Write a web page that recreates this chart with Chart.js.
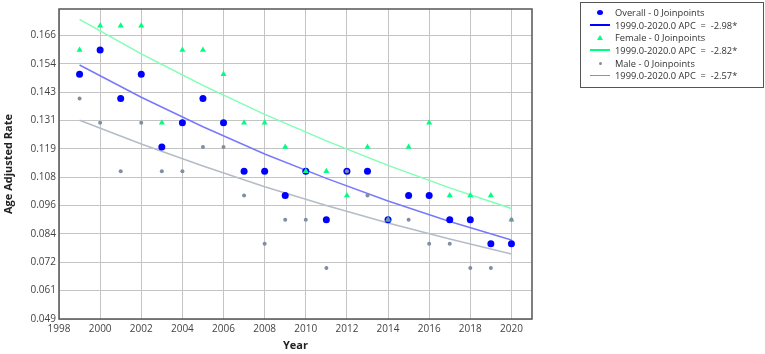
<!DOCTYPE html>
<html>
<head>
<meta charset="utf-8">
<script src="https://cdn.jsdelivr.net/npm/chart.js@4"></script>
<style>
    html, body { margin: 0; padding: 0; background: #fff; }
    #wrap { position: relative; width: 765px; height: 354px; }
    #legend {
        position: absolute; left: 580px; top: 2px; width: 184px; height: 86px;
        box-sizing: border-box; border: 1px solid #555; padding-top: 3px;
        font: 9.3px 'Open Sans', sans-serif; color: #333;
    }
    .row { height: 12.7px; display: flex; align-items: center; white-space: pre; }
    .sym { width: 20px; margin-left: 9px; margin-right: 5px; height: 12px; position: relative; }
    .sym span { position: absolute; }
</style>
</head>
<body>
<div id="wrap">
    <canvas id="chart" width="765" height="354"></canvas>
    <div id="legend"></div>
</div>
<script>
// Datos observados
const years = [1999, 2000, 2001, 2002, 2003, 2004, 2005, 2006, 2007, 2008, 2009,
               2010, 2011, 2012, 2013, 2014, 2015, 2016, 2017, 2018, 2019, 2020];
const overall = [0.15, 0.16, 0.14, 0.15, 0.12, 0.13, 0.14, 0.13, 0.11, 0.11, 0.10,
                 0.11, 0.09, 0.11, 0.11, 0.09, 0.10, 0.10, 0.09, 0.09, 0.08, 0.08];
const female = [0.16, 0.17, 0.17, 0.17, 0.13, 0.16, 0.16, 0.15, 0.13, 0.13, 0.12,
                0.11, 0.11, 0.10, 0.12, 0.09, 0.12, 0.13, 0.10, 0.10, 0.10, 0.09];
const male = [0.14, 0.13, 0.11, 0.13, 0.11, 0.11, 0.12, 0.12, 0.10, 0.08, 0.09,
              0.09, 0.07, 0.11, 0.10, 0.09, 0.09, 0.08, 0.08, 0.07, 0.07, 0.09];

// Lineas de tendencia (modelo joinpoint)
const trendYears = [1999, 2002, 2005, 2008, 2011, 2014, 2017, 2020];
const overallFit = [0.1538, 0.1405, 0.1283, 0.1171, 0.1070, 0.0977, 0.0892, 0.0816];
const femaleFit = [0.1726, 0.1584, 0.1454, 0.1334, 0.1225, 0.1124, 0.1031, 0.0946];
const maleFit = [0.1310, 0.1212, 0.1121, 0.1036, 0.0958, 0.0886, 0.0820, 0.0758];

const legendLabels = [
    'Overall - 0 Joinpoints', '1999.0-2020.0 APC  =  -2.98*',
    'Female - 0 Joinpoints', '1999.0-2020.0 APC  =  -2.82*',
    'Male - 0 Joinpoints', '1999.0-2020.0 APC  =  -2.57*'
];

const yMin = 0.049, yStep = 0.0117, yTickCount = 11;

const pts = (xs, ys) => xs.map((x, i) => ({ x: x, y: ys[i] }));

const frame = {
    id: 'frame',
    afterDraw(chart) {
        const a = chart.chartArea, ctx = chart.ctx;
        ctx.save();
        ctx.strokeStyle = '#555';
        ctx.lineWidth = 1.5;
        ctx.strokeRect(a.left, a.top, a.right - a.left, a.bottom - a.top);
        ctx.restore();
    }
};

new Chart(document.getElementById('chart').getContext('2d'), {
    type: 'scatter',
    data: {
        datasets: [
            { label: legendLabels[0], data: pts(years, overall), pointStyle: 'circle', pointRadius: 3.5,
              backgroundColor: '#0000ff', borderWidth: 0, order: 3 },
            { label: legendLabels[2], data: pts(years, female), pointStyle: 'triangle', pointRadius: 3.5,
              backgroundColor: '#00ff80', borderWidth: 0, order: 2 },
            { label: legendLabels[4], data: pts(years, male), pointStyle: 'circle', pointRadius: 2,
              backgroundColor: '#7f8fa0', borderWidth: 0, order: 1 },
            { label: legendLabels[1], data: pts(trendYears, overallFit), showLine: true, pointRadius: 0,
              borderColor: '#7878ff', borderWidth: 1.5, order: 6 },
            { label: legendLabels[3], data: pts(trendYears, femaleFit), showLine: true, pointRadius: 0,
              borderColor: '#80ffb4', borderWidth: 1.5, order: 5 },
            { label: legendLabels[5], data: pts(trendYears, maleFit), showLine: true, pointRadius: 0,
              borderColor: '#b4bcc8', borderWidth: 1.5, order: 4 }
        ]
    },
    options: {
        responsive: false,
        animation: false,
        layout: { padding: { top: 2, right: 233, left: 0, bottom: 0 } },
        plugins: { legend: { display: false }, tooltip: { enabled: false } },
        scales: {
            x: {
                type: 'linear', min: 1998, max: 2021,
                ticks: { stepSize: 2, includeBounds: false, padding: 4, color: '#444',
                         font: { family: 'Open Sans', size: 10 }, callback: v => String(v) },
                grid: { color: '#c4c4c4', borderDash: [2, 1], drawTicks: false },
                border: { display: false },
                title: { display: true, text: 'Year', color: '#222', padding: { top: 0, bottom: 2 },
                         font: { family: 'Open Sans', size: 11, weight: 'bold' } },
                afterFit(axis) { axis.height = 35; }
            },
            y: {
                min: yMin, max: 0.1769,
                afterBuildTicks(axis) {
                    axis.ticks = Array.from({ length: yTickCount }, (_, i) => ({ value: yMin + i * yStep }));
                },
                ticks: { padding: 3, color: '#444', font: { family: 'Open Sans', size: 10 },
                         callback: v => v.toFixed(3) },
                grid: { color: '#c4c4c4', borderDash: [2, 1], drawTicks: false },
                border: { display: false },
                title: { display: true, text: 'Age Adjusted Rate', color: '#222', padding: { top: 2, bottom: 0 },
                         font: { family: 'Open Sans', size: 11, weight: 'bold' } },
                afterFit(axis) { axis.width = 59; }
            }
        }
    },
    plugins: [frame]
});

// Leyenda
const symbols = [
    '<span style="left:7px;top:3.5px;width:6px;height:5px;border-radius:50%;background:#0000ff"></span>',
    '<span style="left:0;top:5px;width:20px;height:2px;background:#0000ff"></span>',
    '<span style="left:7px;top:3px;width:0;height:0;border-left:3px solid transparent;border-right:3px solid transparent;border-bottom:5px solid #00ff80"></span>',
    '<span style="left:0;top:5px;width:20px;height:2px;background:#00ff80"></span>',
    '<span style="left:8.5px;top:4.5px;width:3px;height:3px;border-radius:50%;background:#7f8fa0"></span>',
    '<span style="left:0;top:5px;width:20px;height:1.5px;background:#8c96a4"></span>'
];
document.getElementById('legend').innerHTML = legendLabels.map((t, i) =>
    '<div class="row"><div class="sym">' + symbols[i] + '</div>' + t + '</div>').join('');
</script>
</body>
</html>
